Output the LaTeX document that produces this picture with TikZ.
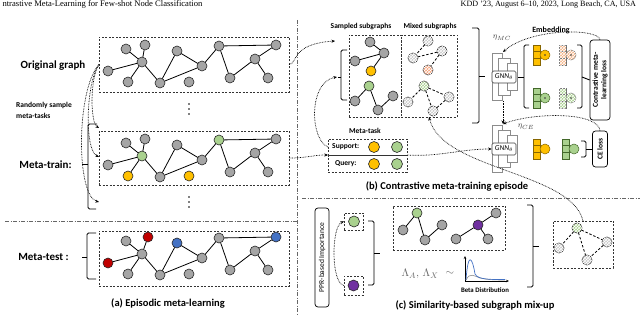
\documentclass[tikz,border=0pt]{standalone}
\usepackage{fontspec}
\setmainfont{Carlito}
\newfontfamily\hdrfont{Liberation Serif}
\usetikzlibrary{arrows.meta,patterns}
\definecolor{ngray}{HTML}{A5A5A5}
\definecolor{lgray}{HTML}{C8C8C8}
\definecolor{ngreen}{HTML}{A9D18E}
\definecolor{nyellow}{HTML}{FFC000}
\definecolor{nred}{HTML}{C00000}
\definecolor{nblue}{HTML}{4472C4}
\definecolor{npurple}{HTML}{7030A0}
\definecolor{norange}{HTML}{F4B183}
\definecolor{edgec}{HTML}{262626}
\definecolor{ygold}{HTML}{BF9000}
\definecolor{gdark}{HTML}{548235}
\tikzset{
  gnode/.style={circle, draw=edgec, line width=0.6pt, minimum size=10pt, inner sep=0pt, outer sep=0pt},
  pnode/.style={gnode, postaction={pattern=crosshatch, pattern color=white}},
  tnode/.style={gnode, minimum size=11pt},
  dbox/.style={rectangle, draw=black!80, dash pattern=on 2pt off 1.5pt, line width=0.6pt, inner sep=0pt, outer sep=0pt},
  ged/.style={line width=0.8pt, draw=black},
  mixed/.style={line width=0.8pt, draw=black, dash pattern=on 2.5pt off 1.8pt},
  dotarr/.style={line width=0.7pt, dash pattern=on 0.7pt off 0.9pt, -{Stealth[length=3.5pt,width=3pt]}},
  sepl/.style={line width=0.6pt, draw=black!60, dash pattern=on 4pt off 1.5pt on 1pt off 1.5pt},
  brc/.style={line width=0.9pt, rounded corners=1.5pt},
  biglbl/.style={font=\fontsize{11}{12}\selectfont\bfseries, inner sep=0pt},
  captxt/.style={font=\fontsize{10.5}{12}\selectfont\bfseries, inner sep=0pt},
  smlbl/.style={font=\fontsize{7.5}{9}\selectfont\bfseries, inner sep=0pt},
  glay/.style={rectangle, draw=black!45, fill=white, line width=0.6pt, inner sep=0pt, anchor=north west},
  gtxt/.style={rectangle, draw=black!75, fill=white, rounded corners=1.5pt, line width=0.6pt, minimum width=24pt, minimum height=12pt, inner sep=0pt, font=\fontsize{7.5}{8}\selectfont},
  lossbox/.style={rectangle, draw=black, rounded corners=3pt, line width=0.7pt, rotate=90, align=center, inner sep=0pt, font=\fontsize{7.5}{8.5}\selectfont\bfseries},
  embl/.style={line width=0.5pt},
  pat/.style={postaction={pattern=crosshatch, pattern color=white}},
  vdot/.style={fill=black}
}
\newcommand\embicon[4]{%
  \foreach \k in {0,1,2} {\draw[embl,#3] (#1,{#2+\k*6.7}) rectangle ++(7,6.7);}
  \draw[embl,#3] ({#1+12},{#2+10}) circle (5pt);
  \ifnum#4=1 \fill[black!80] ({#1+12},{#2+10}) circle (0.8pt);\fi
}
\begin{document}
\begin{tikzpicture}[x=1pt,y=-1pt]
\useasboundingbox (0,0) rectangle (640,315);
% header
\node[anchor=west, font=\hdrfont\fontsize{8.6}{9}\selectfont] (hdrL) at (-1,4.5) {ntrastive Meta-Learning for Few-shot Node Classification};
\node[anchor=east, font=\hdrfont\fontsize{8.1}{9}\selectfont] (hdrR) at (639.5,4.5) {KDD ’23, August 6–10, 2023, Long Beach, CA, USA};
% separators
\draw[sepl] (297,20) -- (297,315);
\draw[sepl] (5,221) -- (297,221);
\draw[sepl] (302,198) -- (640,198);

% ===== panel (a) =====
\node[dbox, anchor=north west, minimum width=190pt, minimum height=55pt] (boxO) at (99,37) {};
\node[dbox, anchor=north west, minimum width=190pt, minimum height=54pt] (boxT) at (99,131) {};
\node[dbox, anchor=north west, minimum width=190pt, minimum height=55pt] (boxS) at (99,231) {};
\foreach \n/\x/\y/\c in {1/108/71/ngray,2/126/49/ngray,3/145/45/ngray,4/142/62/ngray,5/128/82/ngray,6/160/83/ngray,7/177/51/ngray,8/202/66/ngray,9/189/82/ngray,10/219/46/ngray,11/276/45/ngray,12/255/59/ngray,13/230/78/ngray,14/268/78/ngray}
  \node[gnode, fill=\c] (o\n) at (\x,\y) {};
\foreach \n/\x/\y/\c in {1/108/71/ngray,2/126/49/ngray,3/145/45/ngray,4/142/62/ngreen,5/128/82/nyellow,6/160/83/ngray,7/177/51/ngray,8/202/66/ngray,9/189/82/nyellow,10/219/46/ngreen,11/276/45/ngray,12/255/59/ngray,13/230/78/ngray,14/268/78/ngray}
  \node[gnode, fill=\c] (t\n) at (\x,\y+94) {};
\foreach \n/\x/\y/\c in {1/108/71/nred,2/126/49/ngray,3/148/45/nred,4/142/62/ngray,5/128/82/ngray,6/160/83/ngray,7/177/51/nblue,8/202/66/ngray,9/189/82/ngray,10/219/46/ngray,11/276/45/nblue,12/255/59/ngray,13/230/78/ngray,14/268/78/ngray}
  \node[gnode, fill=\c] (s\n) at (\x,\y+192) {};
\foreach \a/\b in {1/4,2/4,3/4,5/4,4/6,6/7,7/8,6/8,8/10,10/11,10/13,13/12,12/11,12/14} {
  \draw[ged] (o\a) -- (o\b);
  \draw[ged] (t\a) -- (t\b);
  \draw[ged] (s\a) -- (s\b);
}
% vertical ellipses
\foreach \yy in {104,109,114,197,202,207} \fill[vdot] (189,\yy) circle (0.85pt);
\node[biglbl] (lOrig) at (53,66) {Original graph};
\node[smlbl, anchor=north west, align=left, font=\fontsize{7.5}{11}\selectfont\bfseries] (lRand) at (16,102) {Randomly sample\\meta-tasks};
\node[biglbl] (lTrain) at (45.5,165) {Meta-train:};
\node[biglbl] (lTest) at (43.5,257) {Meta-test :};
\node[captxt] (capA) at (168,303) {(a) Episodic meta-learning};
% brackets
\draw[brc] (97,124) -- (88,124) -- (88,209) -- (96,209);
\draw[brc] (88,164) -- (82,164);
\draw[brc] (96,233) -- (87,233) -- (87,279) -- (96,279);
\draw[brc] (87,257) -- (82,257);
% dotted arrows
\coordinate (aT1) at (99,128);
\coordinate (aT2) at (99,157);
\coordinate (aT3) at (99,202);
\draw[dotarr] (boxO.west) .. controls (90,78) and (90,122) .. (aT1);
\draw[dotarr] (boxO.west) .. controls (86,82) and (84,150) .. (aT2);
\draw[dotarr] (boxO.west) .. controls (76,90) and (76,196) .. (aT3);

% ===== panel (b) =====
\node[dbox, anchor=north west, minimum width=52pt, minimum height=82pt] (sbox) at (349,35) {};
\node[dbox, anchor=north west, minimum width=56pt, minimum height=82pt] (mbox) at (401,35) {};
\node[smlbl] (lSamp) at (361,27) {Sampled subgraphs};
\node[smlbl] (lMix) at (430,27) {Mixed subgraphs};
% sampled graphs
\node[gnode, fill=ngray] (a1) at (370,42) {};
\node[gnode, fill=ngray] (a2) at (384,53) {};
\node[gnode, fill=ngray] (a3) at (355,61) {};
\node[gnode, fill=nyellow] (a4) at (371,71) {};
\draw[ged] (a1) -- (a2); \draw[ged] (a2) -- (a3); \draw[ged] (a2) -- (a4);
\node[gnode, fill=ngreen] (b1) at (369,86) {};
\node[gnode, fill=ngray] (b2) at (355,101) {};
\node[gnode, fill=ngray] (b3) at (378,110) {};
\node[gnode, fill=ngray] (b4) at (393,96) {};
\draw[ged] (b2) -- (b1); \draw[ged] (b1) -- (b3); \draw[ged] (b3) -- (b4);
% mixed graphs
\node[pnode, fill=lgray] (c1) at (428,41) {};
\node[pnode, fill=lgray] (c2) at (442,51) {};
\node[pnode, fill=lgray] (c3) at (413,58) {};
\node[pnode, fill=norange!90!red] (c4) at (428,70) {};
\draw[mixed] (c1) -- (c3); \draw[mixed] (c3) -- (c2); \draw[mixed] (c2) -- (c4);
\node[pnode, fill=ngreen] (d1) at (424,86) {};
\node[pnode, fill=lgray] (d2) at (408,102) {};
\node[pnode, fill=lgray] (d3) at (433,111) {};
\node[pnode, fill=lgray] (d4) at (449,97) {};
\draw[mixed] (d1) -- (d2); \draw[mixed] (d1) -- (d3); \draw[mixed] (d1) -- (d4); \draw[mixed] (d4) -- (d3);
% brackets around subgraphs
\draw[brc] (347,50) -- (341,50) -- (341,100) -- (347,100);
\draw[brc] (341,77) -- (338,77);
\coordinate (sTip) at (337,77);
\draw[brc] (472,28) -- (479,28) -- (479,123) -- (472,123);
\draw[brc] (479,76) -- (485,76);
% meta-task
\node[smlbl] (lTask) at (365,131) {Meta-task};
\node[dbox, anchor=north west, minimum width=79pt, minimum height=16pt] (sup) at (328,139) {};
\node[dbox, anchor=north west, minimum width=79pt, minimum height=17pt] (qry) at (328,155) {};
\node[smlbl, anchor=west] (tSup) at (332,147) {Support:};
\node[smlbl, anchor=west] (tQry) at (335,164) {Query:};
\node[tnode, fill=nyellow] (sy) at (374,147) {};
\node[tnode, fill=ngreen] (sg) at (397,147) {};
\node[tnode, fill=nyellow] (qy) at (374,164) {};
\node[tnode, fill=ngreen] (qg) at (397,164) {};
% GNN top
\node[glay, minimum width=10pt, minimum height=47pt] (gA1) at (492,53) {};
\node[glay, minimum width=12pt, minimum height=37pt] (gA2) at (498,58) {};
\node[glay, minimum width=10pt, minimum height=27pt] (gA3) at (507,63) {};
\node[gtxt] (gnnA) at (504,77) {\textit{GNN}$_\theta$};
% GNN bottom
\node[glay, minimum width=10pt, minimum height=47pt] (gB1) at (492,125) {};
\node[glay, minimum width=12pt, minimum height=37pt] (gB2) at (498,130) {};
\node[glay, minimum width=10pt, minimum height=27pt] (gB3) at (507,135) {};
\node[gtxt] (gnnB) at (504,149) {\textit{GNN}$_\theta$};
% embeddings top
\embicon{533}{45}{fill=nyellow, draw=ygold!70!black}{1}
\embicon{559}{45}{fill=norange, draw=black!60, pat}{1}
\embicon{533}{88}{fill=ngreen, draw=gdark!80!black}{1}
\embicon{559}{88}{fill=ngreen, draw=black!60, pat}{1}
\draw[brc] (529,45) -- (524,45) -- (524,108) -- (529,108);
\draw[brc] (524,77) -- (518,77);
\draw[brc] (577,45) -- (582,45) -- (582,108) -- (577,108);
\node[lossbox, minimum width=80pt, minimum height=20pt] (cl) at (600,80) {Contrastive meta-\\learning loss};
\draw[brc] (582,77) -- (cl.north);
\node[smlbl, font=\fontsize{8}{9}\selectfont\bfseries] (lEmb) at (551,30) {Embedding};
% embeddings bottom
\embicon{533}{139}{fill=nyellow, draw=ygold!70!black}{0}
\embicon{562}{139}{fill=ngreen, draw=gdark!80!black}{0}
\draw[brc] (581,141) -- (586,141) -- (586,157) -- (581,157);
\node[lossbox, minimum width=36pt, minimum height=15pt] (ce) at (600,149) {CE loss};
\draw[brc] (586,149) -- (ce.north);
% eta arrows
\coordinate (gAt) at (503,52);
\coordinate (gAb) at (503,101);
\coordinate (gBt) at (503,124);
\draw[dotarr] (cl.east) .. controls (598,28) and (530,28) .. (gAt);
\node[text=black!75, font=\fontsize{8}{9}\selectfont] (etaMC) at (502,38) {$\eta_{MC}$};
\draw[dotarr] (gAb) -- (gBt);
\draw[dotarr] (ce.east) .. controls (598,112) and (535,112) .. (gBt);
\node[text=black!75, font=\fontsize{8}{9}\selectfont] (etaCE) at (526,127) {$\eta_{CE}$};
% connectors between panels
\coordinate (sTop) at (335,41);
\draw[dotarr] (boxO.east) .. controls (298,64) and (290,44) .. (sTop);
\draw[dotarr] (boxT.east) .. controls (308,158) and (312,155) .. (qry.north west);
\draw[dotarr] (sup.west) .. controls (310,140) and (308,82) .. (sTip);
\draw[dotarr] (qry.north east) .. controls (440,157) and (460,149) .. (gnnB.west);
\node[captxt] (capB) at (447,186) {(b) Contrastive meta-training episode};

% ===== panel (c) =====
\node[lossbox, minimum width=99pt, minimum height=14pt, font=\fontsize{7.5}{8}\selectfont] (ppr) at (322,257.5) {PPR-based Importance};
\node[dbox, anchor=north west, minimum width=19pt, minimum height=17pt] (gbx) at (344,213) {};
\node[dbox, anchor=north west, minimum width=19pt, minimum height=19pt] (pbx) at (344,276) {};
\node[tnode, fill=ngreen] (pg) at (354,221.5) {};
\node[tnode, fill=npurple] (pp) at (353.5,285.5) {};
\draw[dotarr] (pbx.west) .. controls (331,284) and (331,226) .. (gbx.west);
\draw[brc] (368,221) -- (374,221) -- (374,285) -- (368,285);
\draw[brc] (374,253) -- (380,253);
\node[dbox, anchor=north west, minimum width=112pt, minimum height=44pt] (mixb) at (393,206) {};
\node[gnode, fill=ngreen] (e1) at (417,213) {};
\node[gnode, fill=ngray] (e2) at (403,230) {};
\node[gnode, fill=ngray] (e3) at (425,240) {};
\node[gnode, fill=ngray] (e4) at (442,225) {};
\draw[ged] (e2) -- (e1); \draw[ged] (e1) -- (e3); \draw[ged] (e3) -- (e4);
\node[gnode, fill=ngray] (f1) at (456,239) {};
\node[gnode, fill=npurple] (f2) at (478,225) {};
\node[gnode, fill=ngray] (f3) at (496,213) {};
\node[gnode, fill=ngray] (f4) at (488,239) {};
\draw[ged] (f1) -- (f2); \draw[ged] (f2) -- (f3); \draw[ged] (f2) -- (f4);
\node[text=black!60, font=\fontsize{11}{12}\selectfont] (lam) at (420,274) {$\Lambda_A,\,\Lambda_X$};
\node[text=black!60, font=\fontsize{11}{12}\selectfont] (tld) at (450,273) {$\sim$};
% beta plot
\draw[line width=0.6pt, -{Stealth[length=3pt,width=2.5pt]}] (465,281) -- (465,256);
\draw[line width=0.6pt, -{Stealth[length=3pt,width=2.5pt]}] (465,281) -- (509,281);
\draw[black!45, line width=0.6pt] (466,280) .. controls (470,272) and (474,276) .. (480,278) .. controls (488,280) and (498,280) .. (505,280);
\draw[nblue, line width=0.7pt] (466,280) .. controls (468,252) and (472,256) .. (475,274) .. controls (478,280) and (492,279.5) .. (505,279.5);
\node[smlbl, font=\fontsize{6.8}{8}\selectfont\bfseries] (lBeta) at (485,290.5) {Beta Distribution};
\draw[brc] (527,205) -- (533,205) -- (533,287) -- (527,287);
\draw[brc] (533,246) -- (539,246);
\node[dbox, anchor=north west, minimum width=60pt, minimum height=47pt] (rbox) at (553,221) {};
\node[pnode, fill=ngreen] (r1) at (577,228) {};
\node[pnode, fill=lgray] (r2) at (559,248) {};
\node[pnode, fill=lgray] (r3) at (607,242) {};
\node[pnode, fill=lgray] (r4) at (587,260) {};
\draw[mixed] (r1) -- (r2); \draw[mixed] (r1) -- (r4); \draw[mixed] (r1) -- (r3); \draw[mixed] (r3) -- (r4);
\draw[dotarr] (rbox.north) .. controls (572,172) and (442,170) .. (mbox.south);
\node[captxt] (capC) at (475,305) {(c) Similarity-based subgraph mix-up};
\end{tikzpicture}
\end{document}
